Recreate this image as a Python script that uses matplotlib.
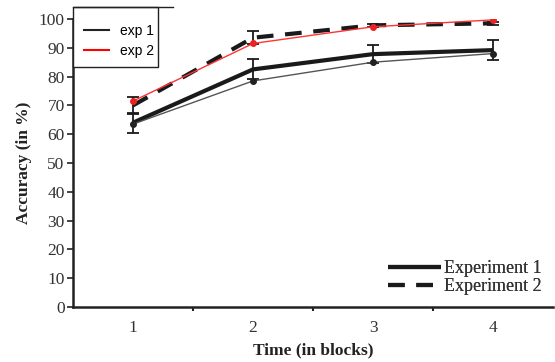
import matplotlib
matplotlib.use("Agg")
import matplotlib.pyplot as plt
from matplotlib.lines import Line2D
from matplotlib.patches import Rectangle

# ---------------------------------------------------
# Data
blocks = [1, 2, 3, 4]

# original figure (thick lines)
exp1_mean = [64.0, 82.5, 87.8, 89.2]
exp1_err = [3.5, 3.5, 3.2, 3.5]
exp2_mean = [70.0, 93.5, 97.8, 98.5]
exp2_err = [3.0, 2.3, 0.6, 0.6]

# overlaid thin lines
exp1_thin = [63.5, 78.5, 85.0, 88.0]
exp2_thin = [71.5, 91.5, 97.3, 99.7]

serif = "Liberation Serif"
sans = "Liberation Sans"
text_col = "#333333"

W, H = 555, 362


def fx(px):
    return px / W


def fy(py):
    return 1 - py / H


# ---------------------------------------------------
fig = plt.figure(figsize=(5.55, 3.62), dpi=100)
ax = fig.add_axes([fx(73), fy(307), (553 - 73) / W, (307 - 19) / H])

# thick original series
ax.plot(blocks, exp1_mean, color="#1a1a1a", linewidth=3.0, solid_capstyle="butt",
        label="Experiment 1", zorder=3)
ax.plot(blocks, exp2_mean, color="#1a1a1a", linewidth=3.0, dashes=(4.0, 2.8),
        label="Experiment 2", zorder=3)
ax.errorbar(blocks, exp1_mean, yerr=exp1_err, fmt="none", ecolor="#1a1a1a",
            elinewidth=1.3, capsize=4, capthick=1.3, zorder=4)
ax.errorbar(blocks, exp2_mean, yerr=exp2_err, fmt="none", ecolor="#1a1a1a",
            elinewidth=1.3, capsize=4, capthick=1.3, zorder=4)

# thin overlay series
ax.plot(blocks, exp1_thin, color="#555555", linewidth=1.0, marker="o",
        markersize=4, markerfacecolor="#222222", markeredgecolor="#222222", zorder=5)
ax.plot(blocks, exp2_thin, color="#ff3333", linewidth=1.0, marker="o",
        markersize=4, markerfacecolor="#ee2222", markeredgecolor="#ee2222", zorder=5)

# ---------------------------------------------------
# Axes styling
ax.set_xlim(0.5, 4.5)
ax.set_ylim(0, 100)
ax.spines["top"].set_visible(False)
ax.spines["right"].set_visible(False)
ax.spines["left"].set_linewidth(1.8)
ax.spines["bottom"].set_linewidth(1.8)
ax.spines["left"].set_color("#222222")
ax.spines["bottom"].set_color("#222222")

ax.set_yticks(range(0, 101, 10))
ax.set_xticks(blocks)
ax.set_xticks([1.5, 2.5, 3.5], minor=True)
ax.tick_params(axis="y", length=4, width=1.2, colors="#222222", labelcolor=text_col,
               labelsize=12.5, pad=2)
ax.tick_params(axis="x", which="major", length=0, labelcolor=text_col,
               labelsize=12.5, pad=9)
ax.tick_params(axis="x", which="minor", length=3, width=1.5, colors="#222222")
for lab in ax.get_xticklabels() + ax.get_yticklabels():
    lab.set_family(serif)

ax.set_ylabel("Accuracy (in %)", family=serif, fontweight="bold", fontsize=12.5,
              color="#222222", labelpad=5)
ax.set_xlabel("Time (in blocks)", family=serif, fontweight="bold", fontsize=12.5,
              color="#222222", labelpad=5)

# original legend, lower right
leg1 = ax.legend(loc="lower right", bbox_to_anchor=(1.0, 0.0), frameon=False,
                 prop={"family": serif, "size": 13}, handlelength=2.9,
                 handletextpad=0.15, labelspacing=0.05, borderaxespad=0.25)
for t in leg1.get_texts():
    t.set_color(text_col)
ax.add_artist(leg1)

# overlay legend box, upper left
fig.add_artist(Rectangle((fx(73), fy(67)), (158 - 73) / W, (67 - 7) / H,
                         transform=fig.transFigure, facecolor="white",
                         edgecolor="#222222", linewidth=1.0, zorder=9))
fig.add_artist(Line2D([fx(73), fx(173)], [fy(7), fy(7)], color="#222222",
                      linewidth=1.0, transform=fig.transFigure, zorder=9))
handles = [Line2D([], [], color="#222222", linewidth=1.5),
           Line2D([], [], color="#ff0000", linewidth=1.5)]
leg2 = fig.legend(handles, ["exp 1", "exp 2"], loc="upper left",
                  bbox_to_anchor=(fx(84), fy(24)), frameon=False,
                  prop={"family": sans, "size": 10}, handlelength=1.8,
                  handletextpad=0.8, labelspacing=0.4, borderpad=0,
                  borderaxespad=0)
leg2.set_zorder(10)

fig.savefig("out.png", dpi=100)
